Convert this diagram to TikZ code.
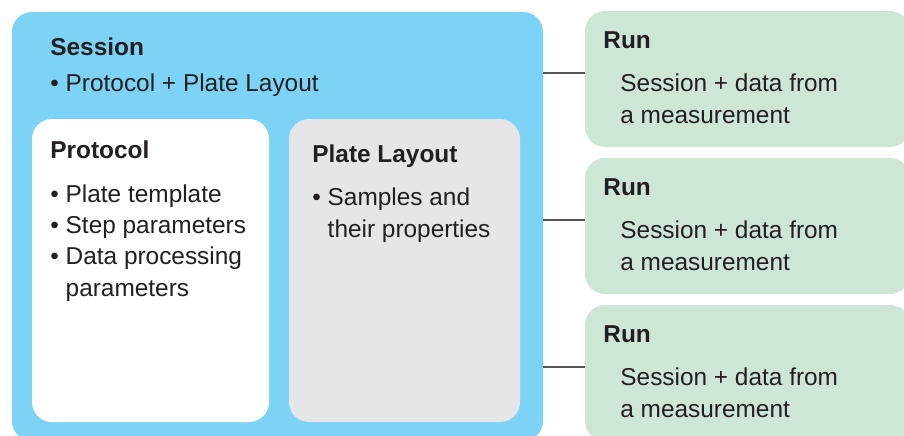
\documentclass[tikz,border=0pt]{standalone}
\usepackage{fontspec}
\setmainfont{Liberation Sans}
\usepackage{tikz}
\usetikzlibrary{positioning, calc}
\definecolor{sessionblue}{RGB}{125,211,246}
\definecolor{rungreen}{RGB}{205,230,214}
\definecolor{layoutgrey}{RGB}{230,230,232}
\definecolor{textdark}{RGB}{35,31,32}
\definecolor{linegrey}{RGB}{85,85,85}

\begin{document}
\begin{tikzpicture}[x=0.5pt, y=-0.5pt, node distance=5.5pt,
  box/.style={rounded corners=10pt, inner sep=0pt, outer sep=0pt, anchor=north west},
  title/.style={font=\bfseries\fontsize{12.2}{15.6}\selectfont, text=textdark, inner sep=0pt, anchor=base west},
  item/.style={font=\fontsize{12.2}{15.6}\selectfont, text=textdark, inner sep=0pt, anchor=base west, align=left},
  link/.style={draw=linegrey, line width=0.7pt}]
  \useasboundingbox (0,0) rectangle (904,435);
  \clip (0,0) rectangle (904,435);

  % session with protocol and plate layout
  \node[box, fill=sessionblue, minimum width=265.5pt, minimum height=214.5pt] (session) at (12,12) {};
  \node[box, fill=white, minimum width=118.5pt, minimum height=151.5pt] (protocol) at (32,119) {};
  \node[box, fill=layoutgrey, minimum width=115.5pt, minimum height=151.5pt, right=10pt of protocol] (layout) {};

  % text blocks sit on the baseline of their last line
  \node[title] (sessiontitle) at (50,55) {Session};
  \node[item] (sessionitem) at (50,91) {• Protocol + Plate Layout};
  \node[title] (protocoltitle) at ($(protocol.north west)+(18,39)$) {Protocol};
  \node[item] (protocolitems) at ($(protocol.north west)+(18,177)$)
    {• Plate template\\• Step parameters\\• Data processing\\\hphantom{• }parameters};
  \node[title] (layouttitle) at ($(layout.north west)+(23,43)$) {Plate Layout};
  \node[item] (layoutitems) at ($(layout.north west)+(23,118)$)
    {• Samples and\\\hphantom{• }their properties};

  % runs
  \node[box, fill=rungreen, minimum width=162.5pt, minimum height=68pt] (run1) at (585,11) {};
  \node[box, fill=rungreen, minimum width=162.5pt, minimum height=68pt, below=of run1] (run2) {};
  \node[box, fill=rungreen, minimum width=162.5pt, minimum height=68pt, below=of run2] (run3) {};

  \foreach \i in {1,2,3}{
    \node[title] (runtitle\i) at ($(run\i.north west)+(18,37)$) {Run};
    \node[item] (runtext\i) at ($(run\i.north west)+(35,112)$) {Session + data from\\a measurement};
    \coordinate (link\i) at ([yshift=3pt]run\i.west);
    \draw[link] (link\i) -- (link\i -| session.east);
  }
\end{tikzpicture}
\end{document}
